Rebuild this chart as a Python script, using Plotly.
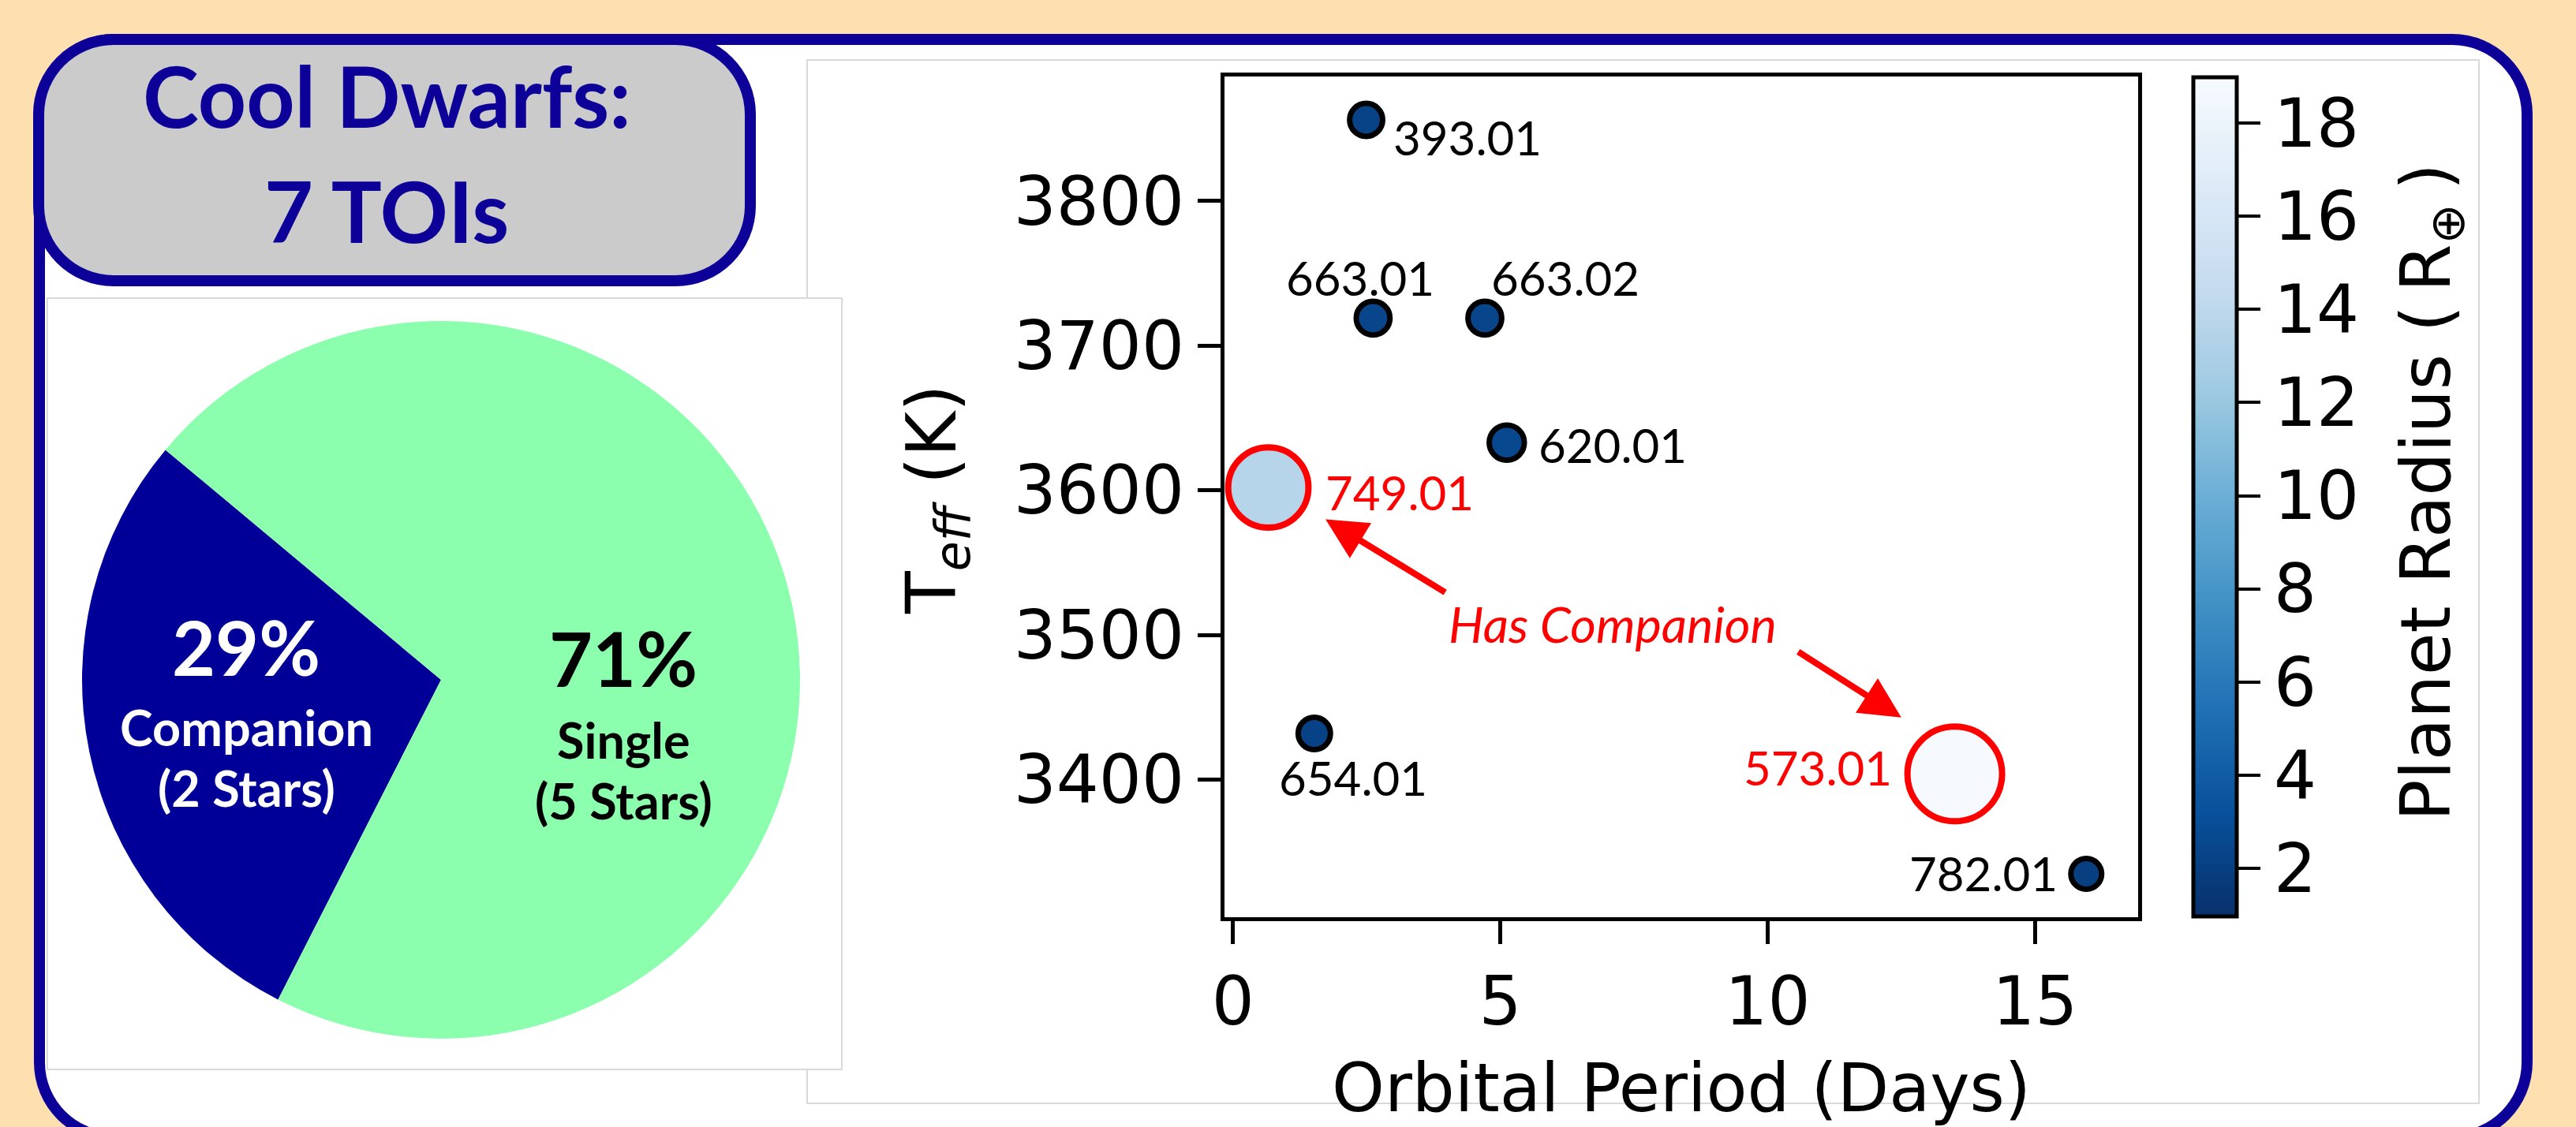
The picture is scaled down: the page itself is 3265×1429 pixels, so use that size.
import plotly.graph_objects as go

W, H = 3265, 1429

# ---------------- data ----------------
toi_labels = ["393.01", "663.01", "663.02", "620.01", "749.01", "654.01", "573.01", "782.01"]
orbital_period = [2.49, 2.62, 4.71, 5.12, 0.66, 1.52, 13.50, 15.96]
teff = [3856, 3719, 3719, 3633, 3602, 3432, 3404, 3335]
planet_radius = [2.3, 2.4, 2.4, 2.6, 13.6, 2.2, 18.9, 2.0]
has_companion = [False, False, False, False, True, False, True, False]

pie_labels = ["Companion", "Single"]
pie_counts = [2, 5]

x_ticks = [0, 5, 10, 15]
y_ticks = [3400, 3500, 3600, 3700, 3800]
cbar_ticks = [2, 4, 6, 8, 10, 12, 14, 16, 18]

# ---------------- styles ----------------
NAVY = "#0C0099"
PEACH = "#FDDFB0"
RED = "#FF0000"
TICK_FONT = dict(family="DejaVu Sans", size=85, color="black")
# label placement per TOI: (xanchor, xshift px, yshift px)
label_place = {
    "393.01": ("left", 32, -22),
    "663.01": ("center", -16, 51),
    "663.02": ("left", 6, 51),
    "620.01": ("left", 38, -3),
    "749.01": ("left", 70, -6),
    "654.01": ("center", 49, -56),
    "573.01": ("right", -78, 8),
    "782.01": ("right", -34, 1),
}


def px(x):
    return x / W


def py(y):
    return 1 - y / H


def rrect(x0, y0, x1, y1, r):
    k = 0.5523 * r
    P = lambda x, y: f"{px(x):.6f},{py(y):.6f}"
    return (
        f"M{P(x0 + r, y0)} L{P(x1 - r, y0)} "
        f"C{P(x1 - r + k, y0)} {P(x1, y0 + r - k)} {P(x1, y0 + r)} "
        f"L{P(x1, y1 - r)} "
        f"C{P(x1, y1 - r + k)} {P(x1 - r + k, y1)} {P(x1 - r, y1)} "
        f"L{P(x0 + r, y1)} "
        f"C{P(x0 + r - k, y1)} {P(x0, y1 - r + k)} {P(x0, y1 - r)} "
        f"L{P(x0, y0 + r)} "
        f"C{P(x0, y0 + r - k)} {P(x0 + r - k, y0)} {P(x0 + r, y0)} Z"
    )


fig = go.Figure()

# ---------------- pie ----------------
fig.add_trace(go.Pie(
    labels=pie_labels, values=pie_counts, sort=False,
    direction="clockwise", rotation=-153,
    marker=dict(colors=["#000099", "#8CFFAE"], line=dict(width=0)),
    textinfo="none", hoverinfo="skip", showlegend=False,
    domain=dict(x=[px(104), px(1014)], y=[py(1317), py(407)]),
))

# ---------------- scatter ----------------
sizes = [27.6 * r ** 0.5 for r in planet_radius]
edge_colors = [RED if c else "black" for c in has_companion]
edge_widths = [8 if c else 7 for c in has_companion]
blues_r = ["rgb(8,48,107)", "rgb(8,81,156)", "rgb(33,113,181)", "rgb(66,146,198)",
           "rgb(107,174,214)", "rgb(158,202,225)", "rgb(198,219,239)",
           "rgb(222,235,247)", "rgb(247,251,255)"]

fig.add_trace(go.Scatter(
    x=orbital_period, y=teff, mode="markers", showlegend=False, hoverinfo="skip",
    marker=dict(
        size=sizes, color=planet_radius, colorscale=[[i / 8, c] for i, c in enumerate(blues_r)],
        cmin=0.97, cmax=18.98, opacity=1,
        line=dict(color=edge_colors, width=edge_widths),
        showscale=True,
        colorbar=dict(
            thickness=55, thicknessmode="pixels",
            len=1064, lenmode="pixels",
            x=px(2780), xanchor="left", xpad=0,
            y=py(98), yanchor="top", ypad=0,
            outlinewidth=5, outlinecolor="black",
            tickvals=cbar_ticks, ticks="outside", ticklen=28, tickwidth=4, tickcolor="black",
            tickfont=TICK_FONT,
        ),
    ),
))

axis_common = dict(
    showgrid=False, zeroline=False, showline=True, mirror=True,
    linecolor="black", linewidth=5, ticks="outside", ticklen=29, tickwidth=5,
    tickcolor="black", tickfont=TICK_FONT,
)

fig.update_layout(
    width=W, height=H, margin=dict(l=0, r=0, t=0, b=0, autoexpand=False),
    paper_bgcolor=PEACH, plot_bgcolor="rgba(0,0,0,0)",
    xaxis=dict(domain=[px(1552), px(2710)], range=[-0.16, 16.93], tickvals=x_ticks,
               title=dict(text="Orbital Period (Days)", standoff=33,
                          font=dict(family="DejaVu Sans", size=85, color="black")),
               **axis_common),
    yaxis=dict(domain=[py(1163), py(97)], range=[3305, 3886], tickvals=y_ticks,
               **axis_common),
)

# ---------------- panels / boxes ----------------
shapes = [
    dict(type="path", path=rrect(50, 50, 3203, 1442, 95), xref="paper", yref="paper",
         fillcolor="white", line=dict(color=NAVY, width=14), layer="below"),
    dict(type="rect", x0=px(1023), x1=px(3142), y0=py(1399), y1=py(76), xref="paper", yref="paper",
         fillcolor="white", line=dict(color="#D9D9D9", width=2), layer="below"),
    dict(type="rect", x0=px(60), x1=px(1067), y0=py(1356), y1=py(378), xref="paper", yref="paper",
         fillcolor="white", line=dict(color="#D9D9D9", width=2), layer="below"),
    dict(type="path", path=rrect(49, 50, 951, 356, 95), xref="paper", yref="paper",
         fillcolor="#CBCBCB", line=dict(color=NAVY, width=14), layer="below"),
]
fig.update_layout(shapes=shapes)

ann = []
# title box text
ann.append(dict(text="Cool Dwarfs:", x=px(490), y=py(120), xref="paper", yref="paper",
                showarrow=False, xanchor="center", yanchor="middle",
                font=dict(family="Lato", size=107, color=NAVY, weight="bold")))
ann.append(dict(text=f"{sum(pie_counts)} TOIs", x=px(490), y=py(266), xref="paper", yref="paper",
                showarrow=False, xanchor="center", yanchor="middle",
                font=dict(family="Lato", size=107, color=NAVY, weight="bold")))

# y-axis title (rotated)
ann.append(dict(text="T<sub><i>eff</i></sub> (K)", x=px(1186), y=py(634),
                xref="paper", yref="paper",
                showarrow=False, xanchor="center", yanchor="middle", textangle=-90,
                font=dict(family="DejaVu Sans", size=88, color="black")))

# colorbar title
ann.append(dict(text="Planet Radius (\u2009R<sub>⊕</sub>\u2009)", x=px(3080), y=py(624),
                xref="paper", yref="paper",
                showarrow=False, xanchor="center", yanchor="middle", textangle=-90,
                font=dict(family="DejaVu Sans", size=87, color="black")))

# pie labels
total = sum(pie_counts)
pie_text_pos = {"Companion": (312, 820, 921, 998, "white"),
                "Single": (790, 834, 937, 1014, "black")}
for lab, cnt in zip(pie_labels, pie_counts):
    cx, y1, y2, y3, col = pie_text_pos[lab]
    pct = f"{round(100 * cnt / total)}%"
    for txt, yy, fs in [(pct, y1, 95), (lab, y2, 63), (f"({cnt} Stars)", y3, 63)]:
        ann.append(dict(text=txt, x=px(cx), y=py(yy), xref="paper", yref="paper",
                        showarrow=False, xanchor="center", yanchor="middle",
                        font=dict(family="Lato", size=fs, color=col, weight="bold")))

# TOI labels
for lab, xv, yv, comp in zip(toi_labels, orbital_period, teff, has_companion):
    xa, xs, ys = label_place[lab]
    ann.append(dict(text=lab, x=xv, y=yv, xref="x", yref="y", showarrow=False,
                    xanchor=xa, yanchor="middle", xshift=xs, yshift=ys,
                    font=dict(family="Lato", size=60, color=RED if comp else "black")))

# Has Companion text + arrows
ann.append(dict(text="<i>Has Companion</i>", x=7.1, y=3508, xref="x", yref="y", showarrow=False,
                xanchor="center", yanchor="middle",
                font=dict(family="Lato", size=63, color=RED)))
for (hx, hy, tx, ty) in [(1.73, 3580, 3.99, 3529), (12.5, 3443, 10.55, 3489)]:
    ann.append(dict(text="", x=hx, y=hy, ax=tx, ay=ty, xref="x", yref="y", axref="x", ayref="y",
                    showarrow=True, arrowhead=2, arrowsize=1.3, arrowwidth=8, arrowcolor=RED,
                    standoff=0, startstandoff=0))

fig.update_layout(annotations=ann)

fig.write_html("out.html", config={"displayModeBar": False},
               post_script="document.body.style.margin='0px';document.body.style.overflow='hidden';")
